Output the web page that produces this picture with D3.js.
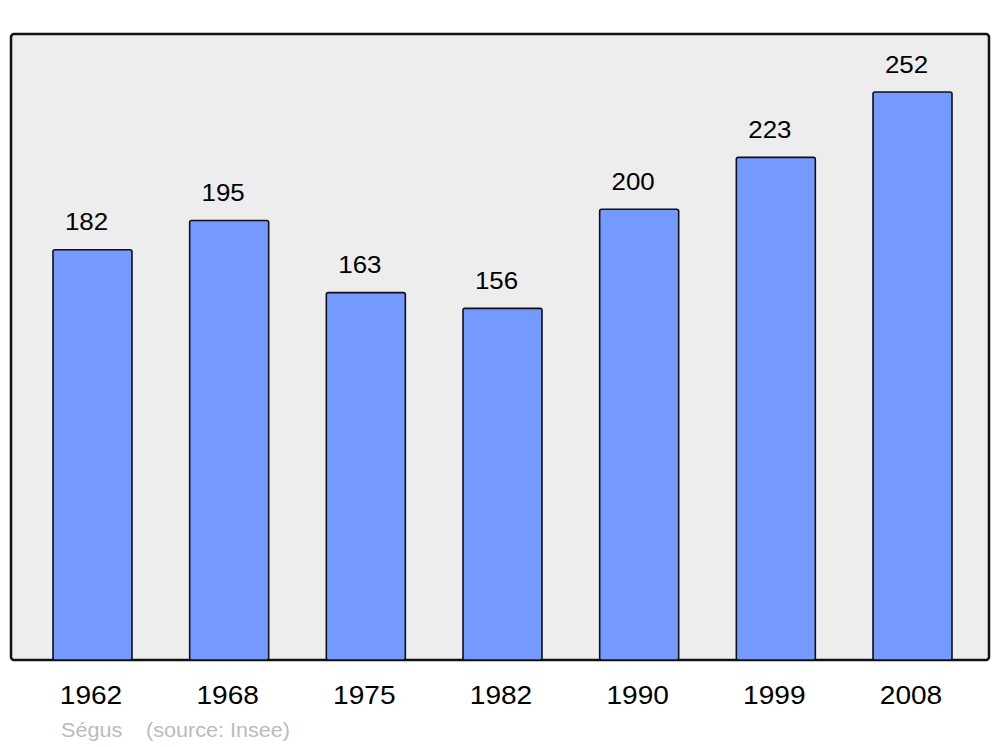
<!DOCTYPE html>
<html><head><meta charset="utf-8">
<script src="https://cdn.jsdelivr.net/npm/d3@7"></script>
<style>body{margin:0;background:#fff}svg{display:block;font-family:"Liberation Sans",Arial,sans-serif}</style>
</head><body>
<svg id="c" width="1000" height="747"></svg>
<script>
const years = ["1962","1968","1975","1982","1990","1999","2008"];
const population = [182,195,163,156,200,223,252];
const footerName = "Ségus";
const footerSource = "(source: Insee)";

const svg = d3.select("#c");
const x = d3.scaleBand().domain(years).range([53, 952]).paddingInner(0.422).paddingOuter(0);
const y = d3.scaleLinear().domain([0, 252]).range([660, 92]);
const sx = 1.08;

svg.append("rect").attr("x", 11).attr("y", 34).attr("width", 978).attr("height", 626)
  .attr("rx", 3).attr("fill", "#ededed").attr("stroke", "#111").attr("stroke-width", 2.5);

const data = years.map((yr, i) => ({yr, v: population[i]}));

svg.selectAll("rect.bar").data(data).join("rect").attr("class", "bar")
  .attr("x", d => x(d.yr)).attr("width", x.bandwidth())
  .attr("y", d => y(d.v)).attr("height", d => y(0) - y(d.v))
  .attr("rx", 2).attr("fill", "#7499ff").attr("stroke", "#111").attr("stroke-width", 1.6);

svg.selectAll("text.val").data(data).join("text").attr("class", "val")
  .attr("transform", d => `translate(${x(d.yr) + x.bandwidth() / 2 - 6},${y(d.v) - 19.5}) scale(${sx},1)`)
  .attr("text-anchor", "middle").attr("font-size", 24).attr("fill", "#000").text(d => d.v);

svg.selectAll("text.yr").data(data).join("text").attr("class", "yr")
  .attr("transform", d => `translate(${x(d.yr) + x.bandwidth() / 2 - 1.5},704) scale(${sx},1)`)
  .attr("text-anchor", "middle").attr("font-size", 26).attr("fill", "#000").text(d => d.yr);

svg.append("text").attr("transform", `translate(61,737) scale(${sx},1)`).attr("font-size", 20).attr("fill", "#bbb").text(footerName);
svg.append("text").attr("transform", `translate(146,737) scale(${sx},1)`).attr("font-size", 20).attr("fill", "#bbb").text(footerSource);
</script>
</body></html>
